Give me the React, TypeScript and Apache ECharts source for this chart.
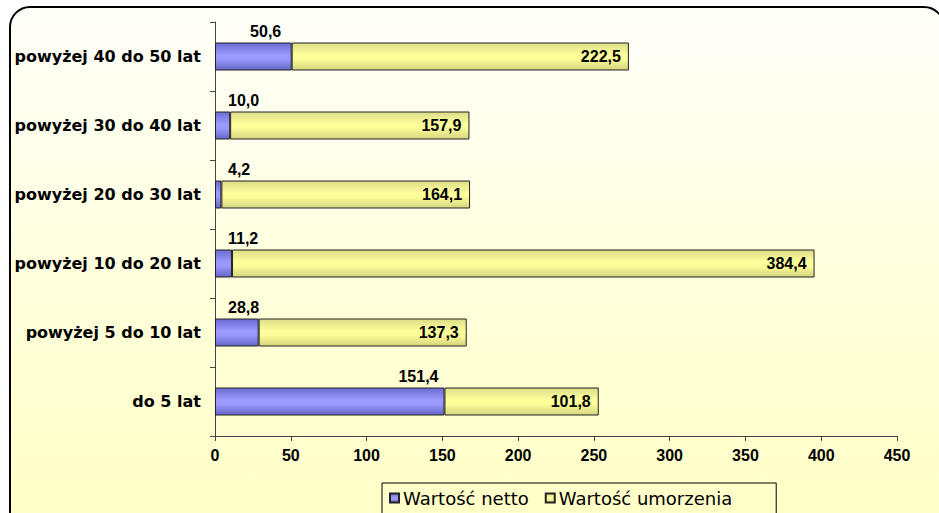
import React, { useEffect, useRef } from "react";
import * as echarts from "echarts";

const categories = [
  "do 5 lat",
  "powyżej 5 do 10 lat",
  "powyżej 10 do 20 lat",
  "powyżej 20 do 30 lat",
  "powyżej 30 do 40 lat",
  "powyżej 40 do 50 lat",
];
const nettoValues = [151.4, 28.8, 11.2, 4.2, 10.0, 50.6];
const umorzeniaValues = [101.8, 137.3, 384.4, 164.1, 157.9, 222.5];
const seriesNames = ["Wartość netto", "Wartość umorzenia"];

const FONT = "'DejaVu Sans', Verdana, sans-serif";
const NUMFONT = "'Liberation Sans', Arial, sans-serif";
const fmt = (v: number) => v.toFixed(1).replace(".", ",");

export default function App() {
  const ref = useRef<HTMLDivElement>(null);
  useEffect(() => {
    document.body.style.margin = "0";
    const chart = echarts.init(ref.current!, undefined, { renderer: "svg" });
    const blueGrad = new echarts.graphic.LinearGradient(0, 0, 0, 1, [
      { offset: 0, color: "#6a6ad0" },
      { offset: 0.45, color: "#9c9cff" },
      { offset: 0.6, color: "#9999fb" },
      { offset: 1, color: "#6666c8" },
    ]);
    const yellowGrad = new echarts.graphic.LinearGradient(0, 0, 0, 1, [
      { offset: 0, color: "#dcdc88" },
      { offset: 0.45, color: "#ffff9c" },
      { offset: 0.6, color: "#fcfc98" },
      { offset: 1, color: "#d4d47e" },
    ]);
    chart.setOption({
      animation: false,
      graphic: [
        {
          type: "rect",
          z: -10,
          silent: true,
          shape: { x: 10, y: 7, width: 934, height: 540, r: 20 },
          style: {
            fill: new echarts.graphic.LinearGradient(0, 0, 0, 1, [
              { offset: 0, color: "#fffffa" },
              { offset: 0.6, color: "#ffffd8" },
              { offset: 1, color: "#ffffc4" },
            ]),
            stroke: "#000",
            lineWidth: 2,
          },
        },
      ],
      grid: { left: 215, right: 42, top: 22, bottom: 77, containLabel: false },
      legend: {
        data: seriesNames,
        left: 382,
        top: 483,
        orient: "horizontal",
        itemWidth: 9,
        itemHeight: 9,
        itemGap: 16,
        icon: "rect",
        padding: [6, 44, 8, 7],
        borderColor: "#000",
        borderWidth: 1,
        backgroundColor: "transparent",
        textStyle: { fontFamily: FONT, fontSize: 18, color: "#000", padding: [0, 0, 0, -1] },
      },
      xAxis: {
        type: "value",
        min: 0,
        max: 450,
        interval: 50,
        splitLine: { show: false },
        axisLine: { show: true, lineStyle: { color: "#444", width: 1 } },
        axisTick: { show: true, length: 5, lineStyle: { color: "#444" } },
        axisLabel: {
          margin: 11,
          color: "#000",
          fontFamily: NUMFONT,
          fontWeight: "bold",
          fontSize: 16,
        },
      },
      yAxis: {
        type: "category",
        data: categories,
        axisLine: { show: true, lineStyle: { color: "#444", width: 1 } },
        axisTick: { show: true, length: 5, alignWithLabel: false, lineStyle: { color: "#444" } },
        axisLabel: {
          margin: 14,
          color: "#000",
          fontFamily: FONT,
          fontWeight: "bold",
          fontSize: 16,
        },
      },
      series: [
        {
          name: seriesNames[0],
          type: "bar",
          stack: "total",
          barWidth: 28,
          data: nettoValues,
          itemStyle: { color: blueGrad, borderColor: "#222", borderWidth: 1 },
          label: {
            show: true,
            position: "top",
            color: "#000",
            fontFamily: NUMFONT,
            fontWeight: "bold",
            fontSize: 16,
            formatter: (p: any) => fmt(p.value),
          },
          labelLayout: (params: any) => {
            const r = params.rect;
            const lw = params.labelRect.width;
            const end = r.x + r.width;
            const left = Math.max(r.x + 13, end - 26 - lw / 2);
            return { x: left, y: r.y - 11, align: "left", verticalAlign: "middle" };
          },
        },
        {
          name: seriesNames[1],
          type: "bar",
          stack: "total",
          barWidth: 28,
          data: umorzeniaValues,
          itemStyle: { color: yellowGrad, borderColor: "#222", borderWidth: 1 },
          label: {
            show: true,
            position: "insideRight",
            distance: 8,
            color: "#000",
            fontFamily: NUMFONT,
            fontWeight: "bold",
            fontSize: 16,
            formatter: (p: any) => fmt(p.value),
          },
        },
      ],
    });
    return () => chart.dispose();
  }, []);
  return <div ref={ref} style={{ width: 939, height: 513 }} />;
}
